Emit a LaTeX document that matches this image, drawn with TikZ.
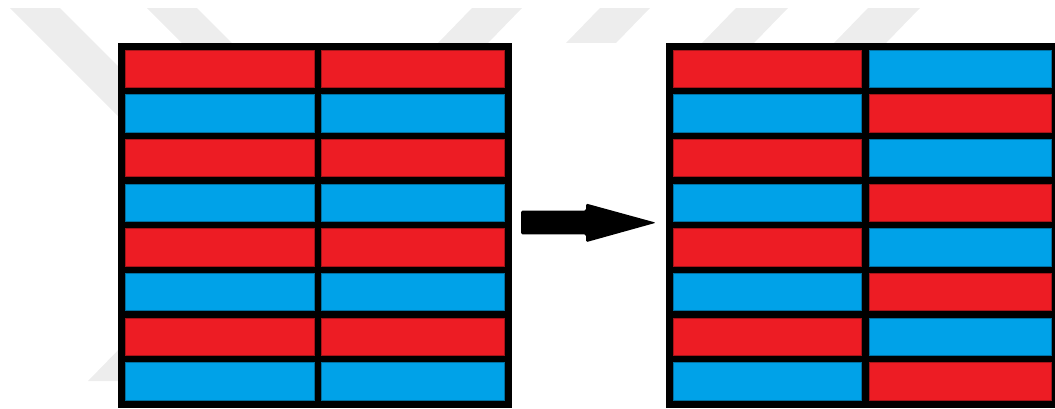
\documentclass[tikz,border=0pt]{standalone}
\definecolor{cred}{RGB}{237,28,36}
\definecolor{cblue}{RGB}{0,162,232}
\definecolor{wm}{RGB}{237,237,237}
\begin{document}
\begin{tikzpicture}[x=1pt,y=-1pt,
  cell/.style={rectangle, inner sep=0pt, outer sep=0pt, anchor=north west,
    minimum height=37.3pt, line width=0.7pt},
  redcell/.style={cell, fill=cred, draw=cred!70!black},
  bluecell/.style={cell, fill=cblue, draw=cblue!70!black},
  colA/.style={minimum width=189pt},
  colB/.style={minimum width=183pt},
  frame/.style={rectangle, fill=black, inner sep=0pt, outer sep=0pt,
    anchor=north west, minimum height=365pt},
  wmark/.style={fill=wm},
  blockarrow/.style={fill=black, rounded corners=1.5pt}]
\useasboundingbox (0,0) rectangle (1055,408);
% faint watermark
\fill[wmark] (10,8) -- (60,8) -- (200,148) -- (150,148) -- cycle;
\fill[wmark] (147,8) -- (197,8) -- (240,51) -- (190,51) -- cycle;
\fill[wmark] (472,8) -- (522,8) -- (488,43) -- (438,43) -- cycle;
\fill[wmark] (600,8) -- (650,8) -- (616,43) -- (566,43) -- cycle;
\fill[wmark] (736,8) -- (788,8) -- (754,43) -- (702,43) -- cycle;
\fill[wmark] (868,8) -- (920,8) -- (886,43) -- (834,43) -- cycle;
\fill[wmark] (88,381) -- (126,342) -- (170,342) -- (170,381) -- cycle;
% white backdrop of the figure
\fill[white] (118,43) rectangle (1055,408);
% frames
\node[frame, minimum width=394pt] (Lbox) at (118,43) {};
\node[frame, minimum width=389pt] (Rbox) at (666,43) {};
% cells
\foreach \i in {0,...,7} {
  \pgfmathsetmacro{\yy}{50+44.67*\i}
  \ifodd\i
    \node[bluecell, colA] (La\i) at (125,\yy) {};
    \node[bluecell, colB] (Lb\i) at (321,\yy) {};
    \node[bluecell, colA, minimum width=188.5pt] (Ra\i) at (673,\yy) {};
    \node[redcell, colB, minimum width=182.5pt] (Rb\i) at (869,\yy) {};
  \else
    \node[redcell, colA] (La\i) at (125,\yy) {};
    \node[redcell, colB] (Lb\i) at (321,\yy) {};
    \node[redcell, colA, minimum width=188.5pt] (Ra\i) at (673,\yy) {};
    \node[bluecell, colB, minimum width=182.5pt] (Rb\i) at (869,\yy) {};
  \fi
}
% block arrow
\coordinate (tail) at (521,222.5);
\coordinate (tip) at (656,222.7);
\fill[blockarrow] (521,210.7) -- (586,210.7) -- (586,203.5) -- (tip)
  -- (586,242.2) -- (586,234.3) -- (521,234.3) -- cycle;
\end{tikzpicture}
\end{document}
